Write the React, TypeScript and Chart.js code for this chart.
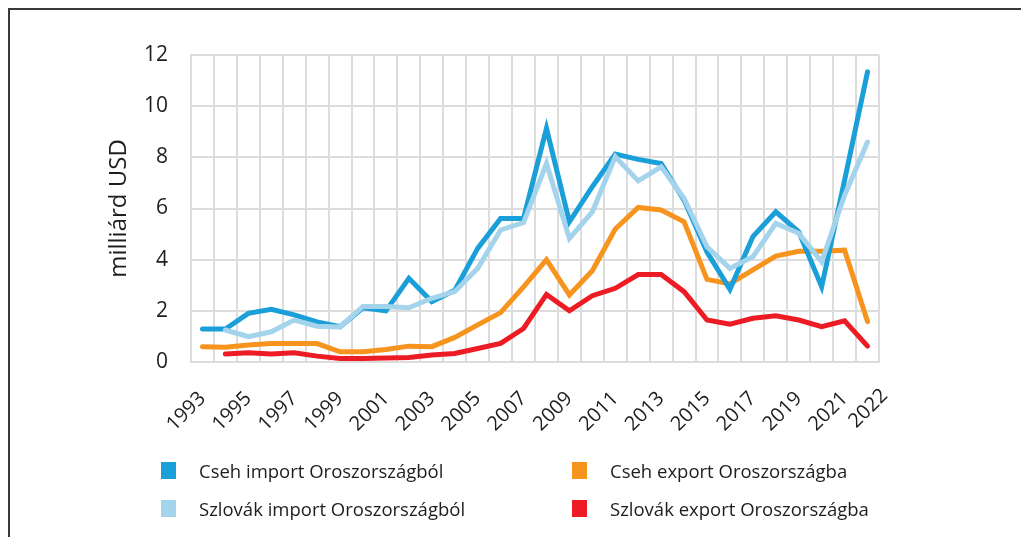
import React, { useEffect, useRef } from "react";
import { Chart, registerables } from "chart.js";

Chart.register(...registerables);

const years = [
  "1993", "1994", "1995", "1996", "1997", "1998", "1999", "2000", "2001", "2002",
  "2003", "2004", "2005", "2006", "2007", "2008", "2009", "2010", "2011", "2012",
  "2013", "2014", "2015", "2016", "2017", "2018", "2019", "2020", "2021", "2022",
];
const shownYearLabels = [
  "1993", "1995", "1997", "1999", "2001", "2003", "2005", "2007", "2009", "2011",
  "2013", "2015", "2017", "2019", "2021", "2022",
];
const yTicks = [0, 2, 4, 6, 8, 10, 12];

const czImport = [
  1.29, 1.29, 1.9, 2.06, 1.84, 1.57, 1.38, 2.12, 2.0, 3.27,
  2.36, 2.8, 4.44, 5.61, 5.61, 9.13, 5.48, 6.85, 8.13, 7.92,
  7.76, 6.33, 4.3, 2.84, 4.9, 5.87, 5.09, 2.94, 7.11, 11.34,
];
const skImport = [
  null, 1.25, 0.99, 1.18, 1.64, 1.4, 1.37, 2.17, 2.17, 2.12,
  2.49, 2.75, 3.66, 5.16, 5.45, 7.76, 4.83, 5.87, 8.02, 7.08,
  7.63, 6.4, 4.5, 3.66, 4.11, 5.42, 5.03, 3.92, 6.52, 8.6,
];
const czExport = [
  0.6, 0.58, 0.66, 0.72, 0.72, 0.72, 0.4, 0.4, 0.49, 0.62,
  0.6, 0.96, 1.45, 1.93, 2.94, 4.0, 2.62, 3.57, 5.2, 6.04,
  5.94, 5.48, 3.23, 3.05, 3.6, 4.14, 4.33, 4.33, 4.37, 1.58,
];
const skExport = [
  null, 0.31, 0.36, 0.31, 0.36, 0.23, 0.14, 0.14, 0.16, 0.18,
  0.27, 0.33, 0.53, 0.73, 1.31, 2.64, 2.0, 2.59, 2.88, 3.42,
  3.42, 2.75, 1.64, 1.48, 1.71, 1.81, 1.64, 1.38, 1.61, 0.62,
];

const seriesNames = [
  "Cseh import Oroszországból",
  "Cseh export Oroszországba",
  "Szlovák import Oroszországból",
  "Szlovák export Oroszországba",
];
const seriesColors = ["#1b9fd9", "#f7941d", "#a4d3ec", "#ed1c24"];

const FONT = "'Open Sans', 'Noto Sans', sans-serif";
const TEXT = "#1f1c1d";

// nudges the last (crowded) year label to the right, as in the source chart
const lastLabelNudge = {
  id: "lastLabelNudge",
  beforeDraw(chart: any) {
    const scale = chart.scales.x;
    if (!scale || !scale.getLabelItems) return;
    const items = scale.getLabelItems(chart.chartArea);
    const last = items[items.length - 1];
    if (last && last.options && last.options.translation && !last._nudged) {
      last.options.translation = [
        last.options.translation[0] + 17,
        last.options.translation[1] - 3,
      ];
      last._nudged = true;
    }
  },
};

export default function App() {
  const ref = useRef<HTMLCanvasElement | null>(null);

  useEffect(() => {
    if (!ref.current) return;
    const line = (label: string, data: (number | null)[], color: string) => ({
      label,
      data,
      borderColor: color,
      backgroundColor: color,
      borderWidth: 5,
      pointRadius: 0,
      tension: 0,
      borderJoinStyle: "miter" as const,
      borderCapStyle: "round" as const,
      fill: false,
    });
    const chart = new Chart(ref.current, {
      type: "line",
      data: {
        labels: years,
        datasets: [
          line(seriesNames[2], skImport, seriesColors[2]),
          line(seriesNames[0], czImport, seriesColors[0]),
          line(seriesNames[1], czExport, seriesColors[1]),
          line(seriesNames[3], skExport, seriesColors[3]),
        ],
      },
      plugins: [lastLabelNudge],
      options: {
        animation: false,
        responsive: false,
        maintainAspectRatio: false,
        layout: { padding: { top: 55, right: 142, left: 0, bottom: 0 } },
        plugins: { legend: { display: false }, tooltip: { enabled: false } },
        scales: {
          x: {
            offset: true,
            grid: {
              offset: true,
              color: "#dcdcdc",
              lineWidth: 2,
              drawTicks: false,
            },
            border: { display: true, color: "#dcdcdc", width: 2 },
            ticks: {
              autoSkip: false,
              maxRotation: 45,
              minRotation: 45,
              padding: 25,
              color: TEXT,
              font: { family: FONT, size: 20 },
              callback: function (this: any, value: any) {
                const lab = this.getLabelForValue(value);
                return shownYearLabels.includes(lab) ? lab : "";
              },
            },
            afterFit: (s: any) => {
              s.height = 175;
            },
          },
          y: {
            min: 0,
            max: 12,
            grid: { color: "#dcdcdc", lineWidth: 2, drawTicks: false },
            border: { display: true, color: "#dcdcdc", width: 2 },
            afterBuildTicks: (s: any) => {
              s.ticks = yTicks.map((v) => ({ value: v }));
            },
            ticks: {
              padding: 23,
              color: TEXT,
              font: { family: FONT, size: 21 },
            },
            title: {
              display: true,
              text: "milliárd USD",
              color: TEXT,
              font: { family: FONT, size: 24 },
              padding: { top: 105, bottom: 0 },
            },
            afterFit: (s: any) => {
              s.width = 191;
            },
          },
        },
      },
    });
    return () => chart.destroy();
  }, []);

  const legendItems = [
    { name: seriesNames[0], color: seriesColors[0], x: 161, y: 462 },
    { name: seriesNames[1], color: seriesColors[1], x: 572, y: 462 },
    { name: seriesNames[2], color: seriesColors[2], x: 161, y: 500 },
    { name: seriesNames[3], color: seriesColors[3], x: 572, y: 500 },
  ];

  return (
    <div>
      <div
        style={{
          position: "absolute",
          left: 8,
          top: 8,
          width: 1013,
          height: 529,
          borderTop: "2px solid #3a3a3a",
          borderLeft: "2px solid #3a3a3a",
          boxSizing: "border-box",
        }}
      />
      <canvas
        ref={ref}
        width={1021}
        height={537}
        style={{ position: "absolute", left: 0, top: 0, width: 1021, height: 537 }}
      />
      {legendItems.map((it) => (
        <div
          key={it.name}
          style={{
            position: "absolute",
            left: it.x,
            top: it.y,
            height: 17,
            display: "flex",
            alignItems: "center",
            fontFamily: FONT,
            fontSize: 18.5,
            color: TEXT,
            whiteSpace: "nowrap",
          }}
        >
          <span
            style={{
              display: "inline-block",
              width: 15,
              height: 17,
              background: it.color,
              marginRight: 23,
            }}
          />
          <span style={{ lineHeight: "17px" }}>{it.name}</span>
        </div>
      ))}
    </div>
  );
}
